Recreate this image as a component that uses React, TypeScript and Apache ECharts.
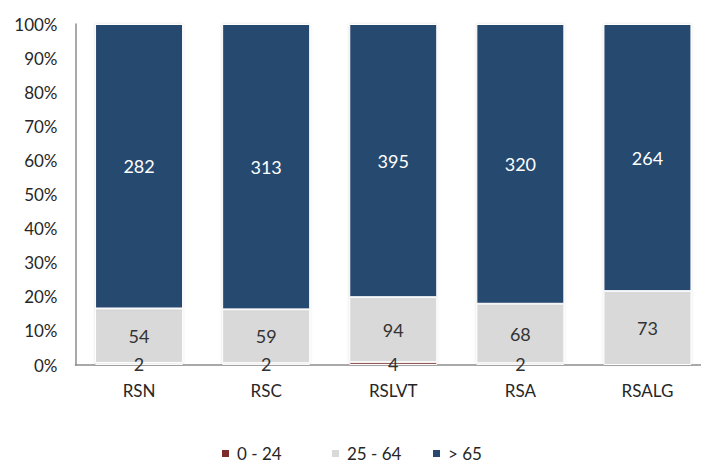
import React, { useEffect, useRef } from "react";
import * as echarts from "echarts";

const categories = ["RSN", "RSC", "RSLVT", "RSA", "RSALG"];
const seriesNames = ["0 - 24", "25 - 64", "> 65"];
const age0to24 = [2, 2, 4, 2, 0];
const age25to64 = [54, 59, 94, 68, 73];
const age65plus = [282, 313, 395, 320, 264];
const yTicks = [0, 10, 20, 30, 40, 50, 60, 70, 80, 90, 100];

const colors = ["#7B2C2A", "#D9D9D9", "#284870"];
const labelColors = ["#333333", "#333333", "#FFFFFF"];
const legendLefts = [220, 330, 431];
const FONT = "Lato, 'Open Sans', sans-serif";

export default function App() {
  const ref = useRef<HTMLDivElement>(null);
  useEffect(() => {
    if (!ref.current) return;
    const chart = echarts.init(ref.current, null, { renderer: "svg" });
    const raw = [age0to24, age25to64, age65plus];
    const totals = categories.map((_, i) => raw.reduce((s, arr) => s + arr[i], 0));
    const series = raw.map((arr, si) => ({
      name: seriesNames[si],
      type: "bar",
      stack: "total",
      barWidth: 88,
      data: arr.map((v, i) => ({ value: (v / totals[i]) * 100, raw: v })),
      itemStyle: {
        color: colors[si],
        borderColor: "#FFFFFF",
        borderWidth: 1,
        shadowColor: "rgba(0,0,0,0.12)",
        shadowBlur: 3,
      },
      label: {
        show: true,
        position: "inside",
        color: labelColors[si],
        fontFamily: FONT,
        fontSize: 18,
        formatter: (p: any) => (p.data.raw > 0 ? String(p.data.raw) : ""),
      },
    }));
    chart.setOption({
      animation: false,
      textStyle: { fontFamily: FONT },
      grid: { left: 75.5, right: 0, top: 24, bottom: 99, containLabel: false },
      xAxis: {
        type: "category",
        data: categories,
        axisLine: { lineStyle: { color: "#8C8C8C", width: 1.5 } },
        axisTick: { show: false },
        axisLabel: { color: "#262626", fontSize: 17, margin: 17, fontFamily: FONT },
      },
      yAxis: {
        type: "value",
        min: 0,
        max: 100,
        interval: 10,
        splitLine: { show: false },
        axisLine: { show: true, lineStyle: { color: "#8C8C8C", width: 1.5 } },
        axisTick: { show: false },
        axisLabel: {
          color: "#262626",
          fontSize: 17,
          margin: 18,
          fontFamily: FONT,
          formatter: (v: number) => (yTicks.includes(v) ? v + "%" : ""),
        },
      },
      legend: seriesNames.map((n, i) => ({
        top: 445,
        left: legendLefts[i],
        padding: 0,
        itemWidth: 9,
        itemHeight: 9,
        itemGap: 0,
        icon: "rect",
        textStyle: { color: "#262626", fontSize: 17, fontFamily: FONT, padding: [0, 0, 0, 2] },
        data: [n],
      })),
      series,
    });
    return () => chart.dispose();
  }, []);
  return (
    <div style={{ position: "absolute", left: 0, top: 0, width: 701, height: 464, overflow: "hidden", background: "#fff" }}>
      <div ref={ref} style={{ width: 711, height: 464 }} />
    </div>
  );
}
